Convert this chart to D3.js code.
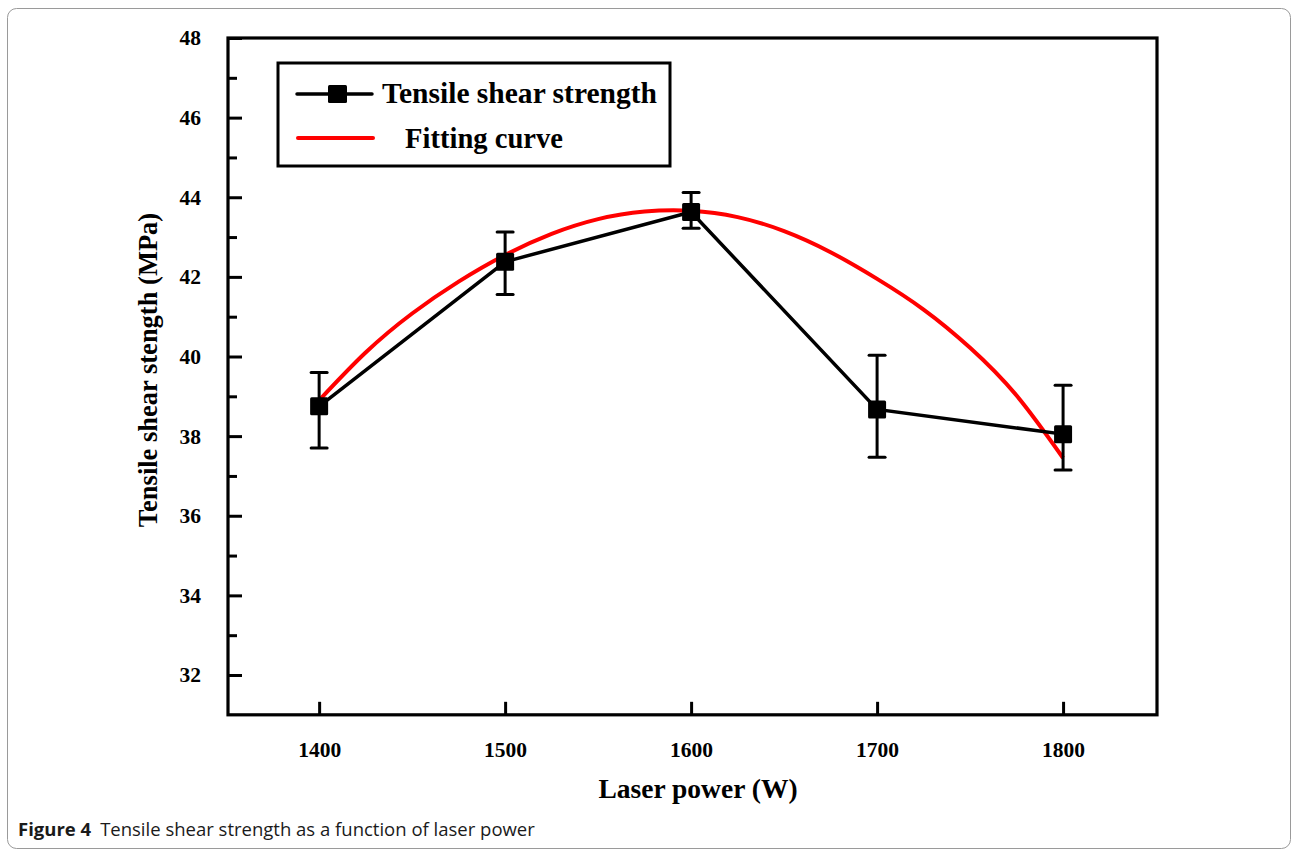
<!DOCTYPE html>
<html>
<head>
<meta charset="utf-8">
<script src="https://cdn.jsdelivr.net/npm/d3@7"></script>
<style>
  html, body { margin: 0; padding: 0; background: #fff; }
  svg { display: block; }
</style>
</head>
<body>
<svg id="chart" width="1292" height="850"></svg>
<script>
// ---- data ----
const laserPower = [1400, 1500, 1600, 1700, 1800];
const strength = [38.75, 42.38, 43.63, 38.67, 38.05];
const errUpper = [39.60, 43.13, 44.12, 40.03, 39.28];
const errLower = [37.70, 41.56, 43.22, 37.47, 37.15];

const fitPower = [1400, 1425, 1450, 1475, 1500, 1525, 1550, 1575, 1600, 1625, 1650, 1675, 1700, 1725, 1750, 1775, 1800];
const fitStrength = [38.90, 40.10, 41.08, 41.88, 42.55, 43.08, 43.45, 43.64, 43.66, 43.50, 43.15, 42.62, 41.95, 41.18, 40.22, 39.02, 37.45];

const xTicks = [1400, 1500, 1600, 1700, 1800];
const yTicks = [32, 34, 36, 38, 40, 42, 44, 46, 48];
const yMinorTicks = [33, 35, 37, 39, 41, 43, 45, 47];

const svg = d3.select("#chart");

// outer figure frame
svg.append("rect")
  .attr("x", 7.5).attr("y", 8.5)
  .attr("width", 1283).attr("height", 840)
  .attr("rx", 9).attr("ry", 9)
  .attr("fill", "none").attr("stroke", "#9a9a9a").attr("stroke-width", 1);

const plot = { left: 228, right: 1157, top: 38 };

const x = d3.scaleLinear().domain([1351, 1850.5]).range([plot.left, plot.right]);
// 48 at y=38, 32 at y=675
const y = d3.scaleLinear().domain([31, 48]).range([675 + (675 - 38) / 16, 38]);

const serif = "'Liberation Serif', 'Times New Roman', serif";

// frame of plot area
svg.append("rect")
  .attr("x", plot.left).attr("y", plot.top)
  .attr("width", plot.right - plot.left).attr("height", y(31) - plot.top)
  .attr("fill", "none").attr("stroke", "#000").attr("stroke-width", 3.2);

// y axis (ticks inward)
const yAxis = d3.axisLeft(y).tickValues(yTicks).tickSize(-14).tickPadding(27)
  .tickFormat(d3.format("d"));
const gy = svg.append("g").attr("transform", `translate(${plot.left},0)`).call(yAxis);
gy.select(".domain").remove();
gy.selectAll(".tick line").attr("stroke", "#000").attr("stroke-width", 3);
gy.selectAll(".tick text")
  .attr("font-family", serif).attr("font-weight", "bold").attr("font-size", 21.5)
  .attr("fill", "#000");

const yMinor = d3.axisLeft(y).tickValues(yMinorTicks).tickSize(-9).tickFormat("");
const gym = svg.append("g").attr("transform", `translate(${plot.left},0)`).call(yMinor);
gym.select(".domain").remove();
gym.selectAll(".tick line").attr("stroke", "#000").attr("stroke-width", 3);

// x axis (ticks inward)
const xAxis = d3.axisBottom(x).tickValues(xTicks).tickSize(-13).tickPadding(27)
  .tickFormat(d3.format("d"));
const gx = svg.append("g").attr("transform", `translate(0,${y(31)})`).call(xAxis);
gx.select(".domain").remove();
gx.selectAll(".tick line").attr("stroke", "#000").attr("stroke-width", 3);
gx.selectAll(".tick text")
  .attr("font-family", serif).attr("font-weight", "bold").attr("font-size", 21.5)
  .attr("fill", "#000");

// axis titles
svg.append("text")
  .attr("x", 698).attr("y", 798)
  .attr("text-anchor", "middle")
  .attr("font-family", serif).attr("font-weight", "bold").attr("font-size", 27.5)
  .text("Laser power (W)");

svg.append("text")
  .attr("transform", `translate(157,${370}) rotate(-90)`)
  .attr("text-anchor", "middle")
  .attr("font-family", serif).attr("font-weight", "bold").attr("font-size", 26.5)
  .text("Tensile shear stength (MPa)");

// fitting curve
const fitLine = d3.line().x((d, i) => x(fitPower[i])).y(d => y(d)).curve(d3.curveNatural);
svg.append("path")
  .attr("d", fitLine(fitStrength))
  .attr("fill", "none").attr("stroke", "#ff0000").attr("stroke-width", 4);

// data line
const dataLine = d3.line().x((d, i) => x(laserPower[i])).y(d => y(d));
svg.append("path")
  .attr("d", dataLine(strength))
  .attr("fill", "none").attr("stroke", "#000").attr("stroke-width", 3.5);

// error bars
const eb = svg.append("g").attr("stroke", "#000").attr("stroke-width", 3);
laserPower.forEach((p, i) => {
  const cx = x(p);
  eb.append("line").attr("x1", cx).attr("x2", cx).attr("y1", y(errUpper[i])).attr("y2", y(errLower[i]));
  eb.append("line").attr("x1", cx - 8).attr("x2", cx + 8).attr("y1", y(errUpper[i])).attr("y2", y(errUpper[i])).attr("stroke-linecap", "round");
  eb.append("line").attr("x1", cx - 8).attr("x2", cx + 8).attr("y1", y(errLower[i])).attr("y2", y(errLower[i])).attr("stroke-linecap", "round");
});

// markers
svg.append("g").selectAll("rect").data(strength).join("rect")
  .attr("x", (d, i) => x(laserPower[i]) - 9)
  .attr("y", d => y(d) - 9)
  .attr("width", 18).attr("height", 18).attr("rx", 1.5)
  .attr("fill", "#000");

// legend
const lg = svg.append("g");
lg.append("rect").attr("x", 278).attr("y", 63).attr("width", 392).attr("height", 103)
  .attr("fill", "#fff").attr("stroke", "#000").attr("stroke-width", 3);
lg.append("line").attr("x1", 297).attr("x2", 372).attr("y1", 94).attr("y2", 94)
  .attr("stroke", "#000").attr("stroke-width", 3.5).attr("stroke-linecap", "round");
lg.append("rect").attr("x", 328).attr("y", 85).attr("width", 19).attr("height", 18).attr("rx", 1.5).attr("fill", "#000");
lg.append("text").attr("x", 382).attr("y", 103)
  .attr("font-family", serif).attr("font-weight", "bold").attr("font-size", 28.5)
  .attr("textLength", 275).attr("lengthAdjust", "spacingAndGlyphs")
  .text("Tensile shear strength");
lg.append("line").attr("x1", 298).attr("x2", 373).attr("y1", 138).attr("y2", 138)
  .attr("stroke", "#ff0000").attr("stroke-width", 4).attr("stroke-linecap", "round");
lg.append("text").attr("x", 405).attr("y", 148)
  .attr("font-family", serif).attr("font-weight", "bold").attr("font-size", 28.5)
  .attr("textLength", 158).attr("lengthAdjust", "spacingAndGlyphs")
  .text("Fitting curve");

// caption
const cap = svg.append("text").attr("x", 18).attr("y", 836)
  .attr("font-family", "'Open Sans', 'Noto Sans', sans-serif").attr("font-size", 18.5).attr("fill", "#1a1a1a");
cap.append("tspan").attr("font-weight", "bold").text("Figure 4");
cap.append("tspan").attr("dx", 9).text("Tensile shear strength as a function of laser power");
</script>
</body>
</html>
